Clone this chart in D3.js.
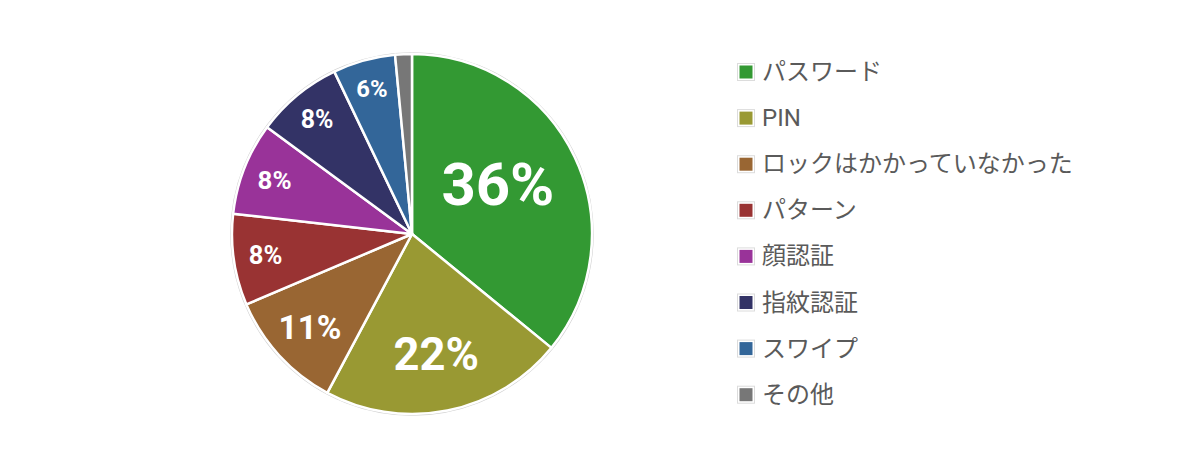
<!DOCTYPE html>
<html>
<head>
<meta charset="utf-8">
<script src="https://cdn.jsdelivr.net/npm/d3@7"></script>
<style>
  body { margin: 0; background: #fff; }
  svg { display: block; }
</style>
</head>
<body>
<script>
var width = 1200,
    height = 467;

// Data (share in %)
var categories = ['パスワード', 'PIN', 'ロックはかかっていなかった', 'パターン', '顔認証', '指紋認証', 'スワイプ', 'その他'];
var values = [35.9, 21.9, 10.8, 8.2, 8.3, 7.8, 5.6, 1.5];
var colors = ['#339933', '#999933', '#996633', '#993333', '#993399', '#333366', '#336699', '#777777'];

var data = categories.map(function(c, i) { return { name: c, value: values[i], color: colors[i] }; });

var cx = 412, cy = 234, R = 180;

var svg = d3.select("body").append("svg")
    .attr("width", width)
    .attr("height", height);

var g = svg.append("g")
    .attr("transform", "translate(" + cx + "," + cy + ")");

// thin grey rim round the pie
g.append("circle")
    .attr("r", R + 1)
    .attr("fill", "none")
    .attr("stroke", "#d0d0d0")
    .attr("stroke-width", 1.5);

var pie = d3.pie()
    .sort(null)
    .value(function(d) { return d.value; });

var arc = d3.arc()
    .innerRadius(0)
    .outerRadius(R);

var arcs = pie(data);

g.selectAll("path.slice")
    .data(arcs)
    .enter().append("path")
    .attr("class", "slice")
    .attr("d", arc)
    .attr("fill", function(d) { return d.data.color; })
    .attr("stroke", "#fff")
    .attr("stroke-width", 2.5)
    .attr("stroke-linejoin", "round");

// label size grows with the share, bigger labels sit further in
var fontScale = d3.scaleLinear().domain([6, 8, 11, 36]).range([24, 25, 34, 60]);

g.selectAll("text.pct")
    .data(arcs.filter(function(d) { return d.data.value >= 5; }))
    .enter().append("text")
    .attr("class", "pct")
    .each(function(d) {
        var fs = fontScale(d.data.value);
        var r = R - 1.25 * fs;
        var a = (d.startAngle + d.endAngle) / 2;
        if (d.data.value > 30) { a -= 0.08; r -= 6; }
        d3.select(this)
            .attr("x", Math.sin(a) * r)
            .attr("y", -Math.cos(a) * r)
            .attr("font-size", fs);
    })
    .attr("text-anchor", "middle")
    .attr("dominant-baseline", "central")
    .attr("font-family", "Roboto, 'Noto Sans CJK JP', sans-serif")
    .attr("font-weight", 700)
    .attr("fill", "#fff")
    .text(function(d) { return Math.round(d.data.value) + "%"; });

// Legend
var legend = svg.append("g")
    .attr("transform", "translate(737,72)");

var item = legend.selectAll("g.item")
    .data(data)
    .enter().append("g")
    .attr("class", "item")
    .attr("transform", function(d, i) { return "translate(0," + (i * 46.1) + ")"; });

item.append("rect")
    .attr("x", 0.5)
    .attr("y", -8.5)
    .attr("width", 17)
    .attr("height", 17)
    .attr("fill", "#fff")
    .attr("stroke", "#dcdcdc");

item.append("rect")
    .attr("x", 2.5)
    .attr("y", -6.5)
    .attr("width", 13)
    .attr("height", 13)
    .attr("fill", function(d) { return d.color; });

item.append("text")
    .attr("x", 25)
    .attr("y", 0)
    .attr("dominant-baseline", "central")
    .attr("font-family", "Roboto, 'Noto Sans CJK JP', sans-serif")
    .attr("font-size", 24)
    .attr("fill", "#5a5a5a")
    .text(function(d) { return d.name; });
</script>
</body>
</html>
